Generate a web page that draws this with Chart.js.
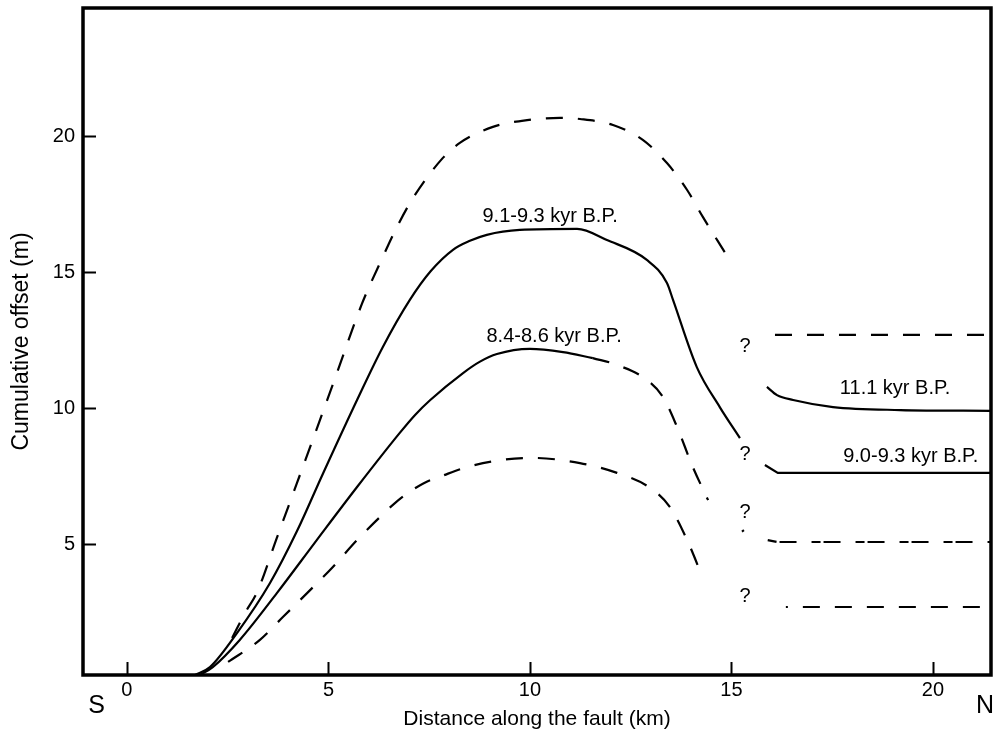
<!DOCTYPE html>
<html>
<head>
<meta charset="utf-8">
<script src="https://cdn.jsdelivr.net/npm/chart.js@4"></script>
<style>
  html, body { margin: 0; padding: 0; background: #fff; }
  #wrap { width: 994px; height: 732px; }
</style>
</head>
<body>
<div id="wrap"><canvas id="c" width="994" height="732"></canvas></div>
<script>
// ---- Axis ticks ----
const xTicks = [0, 5, 10, 15, 20];
const yTicks = [5, 10, 15, 20];

// ---- Series (distance km, offset m) ----
// Upper dashed envelope
const upperDashX = [2.61, 2.93, 3.23, 3.72, 4.22, 4.62, 5.21, 5.83, 6.35, 6.70, 7.10, 7.84, 8.26, 9.08, 9.93, 10.74, 11.24, 12.06, 12.80, 13.40, 13.90, 14.29, 14.86];
const upperDashY = [1.56, 2.48, 3.25, 5.24, 7.26, 8.88, 11.30, 13.84, 15.57, 16.67, 17.74, 19.21, 19.76, 20.35, 20.60, 20.68, 20.64, 20.42, 19.87, 19.02, 18.03, 17.04, 15.68];

// Solid 9.1-9.3 kyr B.P.
const s91X = [1.69, 2.06, 2.73, 3.55, 4.22, 4.86, 5.71, 6.35, 7.02, 7.54, 8.09, 8.51, 8.93, 9.75, 11.17, 11.91, 12.90, 13.40, 13.55, 14.14, 14.71, 15.21];
const s91Y = [0.20, 0.49, 1.74, 3.58, 5.49, 7.59, 10.31, 12.26, 13.99, 15.05, 15.83, 16.16, 16.38, 16.56, 16.60, 16.19, 15.46, 14.61, 13.99, 11.52, 10.05, 8.91];

// Solid 8.4-8.6 kyr B.P.
const s84X = [1.81, 2.13, 2.80, 3.72, 4.71, 5.71, 6.77, 7.15, 7.52, 8.34, 8.76, 9.18, 10.00, 10.82, 11.56];
const s84Y = [0.20, 0.49, 1.49, 3.21, 5.16, 7.11, 9.10, 9.76, 10.30, 11.30, 11.72, 12.00, 12.19, 12.07, 11.85];

// Dashed continuation of 8.4-8.6 kyr
const d84X = [11.56, 12.16, 12.90, 13.30, 13.65, 14.04, 14.42];
const d84Y = [11.85, 11.60, 11.05, 10.42, 9.32, 7.85, 6.63];

// Lower dashed envelope
const lowerDashX = [2.51, 3.30, 3.87, 4.47, 5.11, 5.71, 6.28, 6.65, 7.02, 7.39, 7.84, 8.34, 9.18, 10.07, 11.24, 12.16, 12.98, 13.47, 13.90, 14.29];
const lowerDashY = [0.68, 1.49, 2.33, 3.21, 4.17, 5.16, 6.01, 6.52, 6.94, 7.27, 7.53, 7.80, 8.08, 8.18, 7.99, 7.63, 7.08, 6.38, 5.16, 3.77];

// North segment: upper dashed
const nTopX = [16.08, 21.49];
const nTopY = [12.70, 12.70];

// North segment: 11.1 kyr B.P. (solid)
const n111X = [15.88, 16.13, 16.53, 17.52, 19.18, 21.49];
const n111Y = [10.79, 10.49, 10.31, 10.05, 9.94, 9.91];

// North segment: 9.0-9.3 kyr B.P. (solid)
const n90X = [15.83, 16.15, 21.49];
const n90Y = [7.92, 7.63, 7.63];

// North segment: middle dashed
const nMidX = [15.90, 16.13, 21.49];
const nMidY = [5.16, 5.09, 5.09];

// North segment: lower dashed
const nLowX = [16.35, 21.49];
const nLowY = [2.70, 2.70];

// Small isolated dot
const dotX = [15.27, 15.30];
const dotY = [5.53, 5.47];

// ---- Text annotations ----
const labelTexts = ['9.1-9.3 kyr B.P.', '8.4-8.6 kyr B.P.', '11.1 kyr B.P.', '9.0-9.3 kyr B.P.'];
const labelX = [10.50, 10.60, 19.06, 19.45];
const labelY = [17.04, 12.66, 10.75, 8.25];
const qX = 15.34;
const qY = [12.26, 8.29, 6.19, 3.07];

const FONT = '"Liberation Sans", Arial, Helvetica, sans-serif';

function pts(xs, ys) { return xs.map((v, i) => ({ x: v, y: ys[i] })); }

const DASH = [17, 15];
function ds(xs, ys, dashed, extra) {
  return Object.assign({
    data: pts(xs, ys),
    showLine: true,
    borderColor: '#000',
    borderWidth: 2.2,
    pointRadius: 0,
    pointHoverRadius: 0,
    fill: false,
    cubicInterpolationMode: 'monotone',
    borderDash: dashed ? DASH : [],
    borderCapStyle: 'butt'
  }, extra || {});
}

const overlay = {
  id: 'overlay',
  afterDraw(chart) {
    const { ctx, chartArea: a, scales } = chart;
    const x = scales.x, y = scales.y;
    ctx.save();
    ctx.strokeStyle = '#000';
    ctx.lineWidth = 3.5;
    ctx.setLineDash([]);
    ctx.strokeRect(a.left, a.top, a.right - a.left, a.bottom - a.top);
    ctx.lineWidth = 2;
    ctx.beginPath();
    xTicks.forEach(v => {
      const px = Math.round(x.getPixelForValue(v)) + 0.5;
      ctx.moveTo(px, a.bottom);
      ctx.lineTo(px, a.bottom - 13);
    });
    yTicks.forEach(v => {
      const py = Math.round(y.getPixelForValue(v)) + 0.5;
      ctx.moveTo(a.left, py);
      ctx.lineTo(a.left + 13, py);
    });
    ctx.stroke();

    ctx.fillStyle = '#000';
    ctx.textAlign = 'center';
    ctx.textBaseline = 'middle';
    ctx.font = '20px ' + FONT;
    labelTexts.forEach((t, i) => {
      ctx.fillText(t, x.getPixelForValue(labelX[i]), y.getPixelForValue(labelY[i]));
    });
    qY.forEach(v => ctx.fillText('?', x.getPixelForValue(qX), y.getPixelForValue(v)));

    ctx.font = '25px ' + FONT;
    ctx.fillText('S', x.getPixelForValue(-0.75), a.bottom + 31);
    ctx.fillText('N', x.getPixelForValue(21.29), a.bottom + 31);
    ctx.restore();
  }
};

new Chart(document.getElementById('c'), {
  type: 'scatter',
  data: {
    datasets: [
      ds(upperDashX, upperDashY, true),
      ds(s91X, s91Y, false),
      ds(s84X, s84Y, false),
      ds(d84X, d84Y, true),
      ds(lowerDashX, lowerDashY, true),
      ds(nTopX, nTopY, true, { cubicInterpolationMode: 'default', tension: 0 }),
      ds(n111X, n111Y, false),
      ds(n90X, n90Y, false, { cubicInterpolationMode: 'default', tension: 0 }),
      ds(nMidX, nMidY, true, { cubicInterpolationMode: 'default', tension: 0, borderDash: [9, 3, 17, 15] }),
      ds(nLowX, nLowY, true, { cubicInterpolationMode: 'default', tension: 0, borderDashOffset: 15 }),
      ds(dotX, dotY, false, { cubicInterpolationMode: 'default', tension: 0, borderWidth: 2.5 })
    ]
  },
  options: {
    responsive: false,
    animation: false,
    devicePixelRatio: 1,
    layout: { padding: { top: 8, right: 3, left: 0, bottom: 0 } },
    plugins: { legend: { display: false }, tooltip: { enabled: false } },
    scales: {
      x: {
        type: 'linear',
        min: -1.09,
        max: 21.44,
        afterBuildTicks: s => { s.ticks = xTicks.map(v => ({ value: v })); },
        afterFit: s => { s.height = 57; s.paddingLeft = 0; s.paddingRight = 0; },
        grid: { display: false, drawTicks: false },
        border: { display: false },
        ticks: { color: '#000', font: { family: FONT, size: 20 }, padding: 3, maxRotation: 0, autoSkip: false },
        title: { display: true, text: 'Distance along the fault (km)', color: '#000', font: { family: FONT, size: 21 }, padding: { top: 0, bottom: 0 } }
      },
      y: {
        type: 'linear',
        min: 0.2,
        max: 24.72,
        afterBuildTicks: s => { s.ticks = yTicks.map(v => ({ value: v })); },
        afterFit: s => { s.width = 83; s.paddingTop = 0; s.paddingBottom = 0; },
        grid: { display: false, drawTicks: false },
        border: { display: false },
        ticks: { color: '#000', font: { family: FONT, size: 20 }, padding: 8, autoSkip: false },
        title: { display: true, text: 'Cumulative offset (m)', color: '#000', font: { family: FONT, size: 23 }, padding: { top: 8, bottom: 0 } }
      }
    }
  },
  plugins: [overlay]
});
</script>
</body>
</html>
